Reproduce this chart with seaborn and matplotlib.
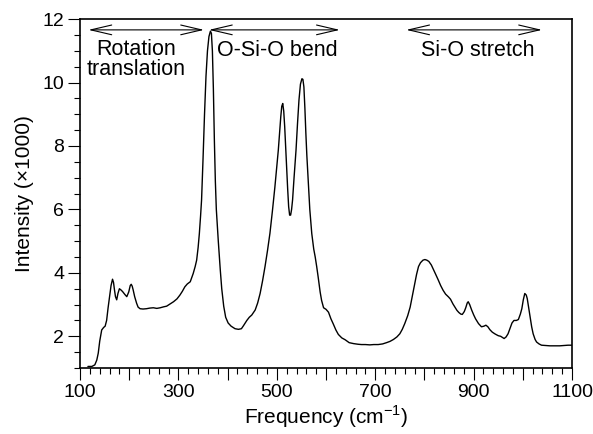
import matplotlib
matplotlib.use("Agg")
import matplotlib.pyplot as plt
from matplotlib.ticker import MultipleLocator, FixedLocator
import pandas as pd
import seaborn as sns

# Raman spectrum (frequency in cm-1, intensity x1000)
freq_cm = [
    116, 124, 130, 134, 137, 140, 144, 148, 151, 154, 157, 160, 163, 166, 168,
    170, 172, 174.5, 177, 180, 184, 187, 191, 195, 199, 202, 204, 206, 208, 211,
    215, 218, 222, 228, 235, 242, 249, 256, 263, 270, 276, 283, 290, 297, 303,
    308, 313, 318, 324, 330, 334, 337, 340, 342.5, 345, 347, 350, 353, 356, 359,
    362, 365, 367, 369, 371, 373, 375, 377, 381, 385, 388, 392, 396, 401, 407,
    415, 422, 428, 432, 439, 444, 449, 456, 461, 466, 471, 476, 481, 486, 491,
    496, 500, 503, 506, 508, 510, 512, 514, 516, 518, 520, 522, 524, 526, 528,
    530, 532, 535, 539, 542, 545, 548, 551, 553, 555, 557, 559, 561, 564, 567,
    571, 575, 578, 581, 584, 588, 591, 595, 600, 605, 610, 615, 620, 625, 632,
    639, 647, 656, 665, 672, 680, 689, 697, 706, 715, 723, 730, 737, 744, 750,
    755, 760, 766, 771, 777, 784, 788, 792, 797, 801, 805, 809, 814, 818, 823,
    828, 833, 838, 843, 849, 853, 858, 862, 866, 870, 874, 877, 881, 884, 887,
    889, 892, 896, 900, 904, 910, 916, 921, 925, 929, 933, 938, 944, 950, 955,
    959, 962, 966, 970, 974, 978, 982, 987, 991, 995, 998, 1001, 1004, 1007, 1009,
    1012, 1015, 1018, 1021, 1025, 1028, 1033, 1038, 1046, 1055, 1065, 1075, 1085, 1092, 1100,
]
intensity_k = [
    1.05, 1.05, 1.10, 1.25, 1.47, 1.85, 2.20, 2.28, 2.32, 2.50, 2.90, 3.25, 3.60, 3.80, 3.70,
    3.46, 3.25, 3.15, 3.35, 3.50, 3.45, 3.40, 3.32, 3.25, 3.40, 3.60, 3.64, 3.58, 3.46, 3.25,
    3.04, 2.92, 2.87, 2.86, 2.87, 2.89, 2.90, 2.88, 2.90, 2.93, 2.95, 3.02, 3.09, 3.18, 3.30,
    3.42, 3.56, 3.65, 3.72, 3.98, 4.20, 4.40, 4.80, 5.24, 5.80, 6.30, 7.60, 9.00, 10.20, 11.00,
    11.45, 11.62, 11.55, 11.00, 9.80, 8.20, 6.90, 6.00, 5.00, 4.10, 3.50, 2.95, 2.60, 2.42, 2.32,
    2.24, 2.22, 2.24, 2.33, 2.50, 2.60, 2.67, 2.83, 3.05, 3.35, 3.75, 4.20, 4.70, 5.25, 5.95,
    6.70, 7.35, 7.87, 8.50, 8.92, 9.25, 9.34, 9.10, 8.60, 7.95, 7.35, 6.65, 6.09, 5.82, 5.82,
    6.00, 6.30, 7.00, 7.87, 8.70, 9.45, 9.95, 10.12, 10.10, 9.86, 9.20, 8.40, 7.70, 6.82, 6.00,
    5.24, 4.75, 4.50, 4.20, 3.87, 3.40, 3.13, 2.90, 2.85, 2.76, 2.55, 2.38, 2.20, 2.06, 1.95,
    1.89, 1.80, 1.77, 1.75, 1.74, 1.74, 1.73, 1.74, 1.74, 1.76, 1.80, 1.84, 1.90, 1.98, 2.08,
    2.22, 2.40, 2.65, 2.92, 3.40, 3.95, 4.20, 4.32, 4.40, 4.42, 4.40, 4.36, 4.25, 4.12, 3.95,
    3.78, 3.60, 3.45, 3.33, 3.24, 3.17, 3.02, 2.92, 2.82, 2.75, 2.70, 2.69, 2.78, 2.90, 3.05,
    3.09, 3.00, 2.83, 2.68, 2.55, 2.40, 2.30, 2.32, 2.35, 2.30, 2.21, 2.13, 2.07, 2.02, 2.00,
    1.96, 1.93, 1.98, 2.08, 2.25, 2.42, 2.50, 2.50, 2.53, 2.70, 2.87, 3.15, 3.35, 3.30, 3.19,
    2.90, 2.61, 2.30, 2.08, 1.90, 1.82, 1.76, 1.72, 1.71, 1.70, 1.70, 1.70, 1.71, 1.72, 1.72,
]

band_labels = ["Rotation\ntranslation", "O-Si-O bend", "Si-O stretch"]
band_starts = [117, 362, 763]
band_ends = [352, 628, 1039]
band_label_x = [214, 500, 909]

x_ticks_major = list(range(100, 1101, 100))
x_ticklabels = ["100", "", "300", "", "500", "", "700", "", "900", "", "1100"]

sns.set_theme(style="ticks")
plt.rcParams["font.family"] = ["Liberation Sans", "DejaVu Sans"]
plt.rcParams["mathtext.fontset"] = "custom"
plt.rcParams["mathtext.rm"] = "Liberation Sans"

df = pd.DataFrame({"freq": freq_cm, "intensity": intensity_k})

fig = plt.figure(figsize=(5.93, 4.34), dpi=100)
ax = fig.add_axes([0.135, 0.152, 0.8296, 0.804])

sns.lineplot(data=df, x="freq", y="intensity", color="black", lw=1.0,
             sort=False, estimator=None, ax=ax)

ax.set_xlim(100, 1100)
ax.set_ylim(1, 12)
ax.xaxis.set_major_locator(FixedLocator(x_ticks_major))
ax.set_xticklabels(x_ticklabels)
ax.xaxis.set_minor_locator(MultipleLocator(20))
ax.yaxis.set_major_locator(MultipleLocator(2))
ax.yaxis.set_minor_locator(MultipleLocator(0.5))

ax.tick_params(axis="both", which="major", direction="out", length=8.5, width=0.8,
               labelsize=14, color="black", labelcolor="black", pad=3)
ax.tick_params(axis="both", which="minor", direction="out", length=4, width=0.8,
               color="black")
ax.tick_params(top=False, right=False, which="both")

for side in ["left", "bottom", "top", "right"]:
    ax.spines[side].set_visible(True)
    ax.spines[side].set_color("black")
    ax.spines[side].set_linewidth(1.2)

ax.set_xlabel("Frequency (cm$^{-1}$)", fontsize=15, color="black", labelpad=2)
ax.set_ylabel("Intensity (\u00d71000)", fontsize=15, color="black", labelpad=6)

# double-headed band arrows with labels
for label, x0, x1, xl in zip(band_labels, band_starts, band_ends, band_label_x):
    ax.annotate("", xy=(x1, 11.66), xytext=(x0, 11.66),
                arrowprops=dict(arrowstyle="<->,head_length=1.5,head_width=0.35",
                                lw=0.8, color="black", shrinkA=0, shrinkB=0,
                                mutation_scale=10))
    ax.text(xl, 11.0 if "\n" not in label else 10.72, label, ha="center",
            va="center", fontsize=15.5, color="black", linespacing=0.95)

fig.savefig("out.png", dpi=100)
